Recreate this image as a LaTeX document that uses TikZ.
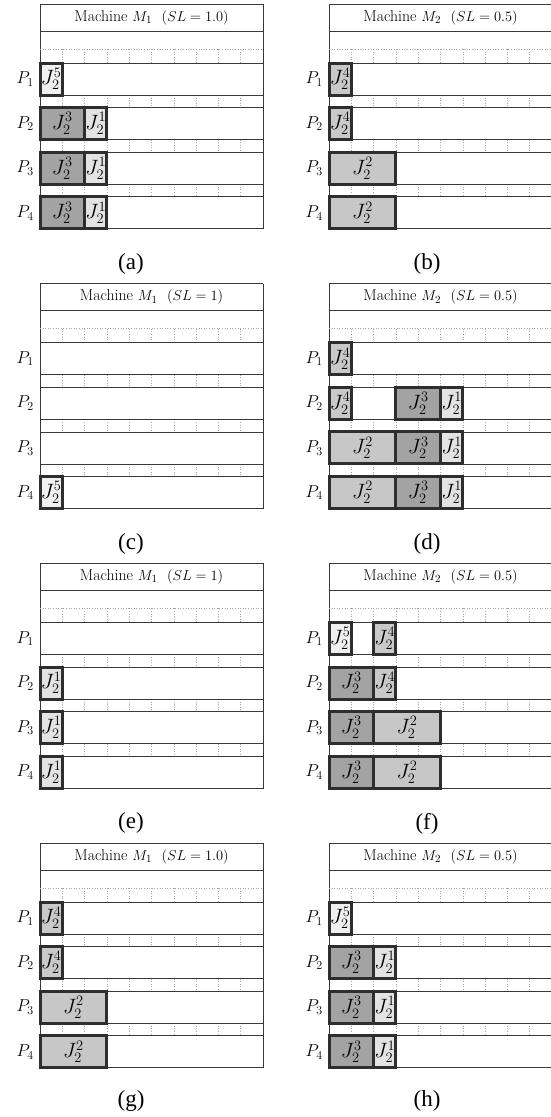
\documentclass[tikz,border=0pt]{standalone}
\usepackage{fontspec}
\newfontfamily\capfont{Liberation Serif}
\definecolor{jthree}{gray}{0.64}
\definecolor{jtwo}{gray}{0.78}
\definecolor{jfour}{gray}{0.79}
\definecolor{jone}{gray}{0.89}
\definecolor{jfive}{gray}{0.94}
\definecolor{framec}{gray}{0.22}
\definecolor{boxc}{gray}{0.18}
\tikzset{
  frameline/.style={draw=framec, line width=0.8pt},
  tickline/.style={draw=gray!70, dotted, line width=0.6pt},
  hdr/.style={font=\fontsize{15.8}{18}\selectfont, inner sep=0pt},
  plab/.style={font=\fontsize{18.5}{21}\selectfont, inner sep=0pt, anchor=east},
  jobbox/.style={draw=boxc, line width=3pt, inner sep=0pt, outer sep=0pt,
    minimum height=32pt, anchor=north west, font=\fontsize{19.5}{22}\selectfont},
  captext/.style={font=\capfont\fontsize{23}{26}\selectfont, inner sep=0pt}
}
\newcommand\drawpanel[4]{%
  \begin{scope}[shift={(#2,#3)}]
    \draw[frameline] (0,0) -- (223,0);
    \draw[frameline] (0,27) -- (223,27);
    \draw[frameline] (0,0) -- (0,224.8);
    \draw[frameline] (223,0) -- (223,224.8);
    \node[hdr] (#1-hdr) at (111.5,13.5) {#4};
    \draw[tickline] (0,45) -- (223,45);
    \foreach \k in {1,...,9} {
      \draw[tickline] (\k*22.3,45) -- (\k*22.3,59);
      \draw[tickline] (\k*22.3,91) -- (\k*22.3,103.6);
      \draw[tickline] (\k*22.3,135.6) -- (\k*22.3,148.2);
      \draw[tickline] (\k*22.3,180.2) -- (\k*22.3,192.8);
    }
    \foreach \r in {1,...,4} {
      \pgfmathsetmacro\rt{59+(\r-1)*44.6}
      \draw[frameline] (0,\rt) rectangle (223,\rt+32);
      \node[plab] (#1-p\r) at (-6,\rt+16) {$P_{\r}$};
    }
  \end{scope}}
\newcommand\job[8]{%
  \pgfmathsetmacro\jx{#2+#5*22.3}%
  \pgfmathsetmacro\jy{#3+59+(#4-1)*44.6}%
  \pgfmathsetmacro\jw{#6*22.3}%
  \node[jobbox, fill=#7, minimum width=\jw pt] (#1) at (\jx,\jy) {$J_2^{#8}$};}
\begin{document}
\begin{tikzpicture}[x=1pt,y=-1pt]
\useasboundingbox (0,0) rectangle (550,1117);
% row 1
\drawpanel{a}{40}{4}{Machine $M_1$ \ $(SL=1.0)$}
\job{a1}{40}{4}{1}{0}{1}{jfive}{5}
\job{a2}{40}{4}{2}{0}{2}{jthree}{3}
\job{a3}{40}{4}{2}{2}{1}{jone}{1}
\job{a4}{40}{4}{3}{0}{2}{jthree}{3}
\job{a5}{40}{4}{3}{2}{1}{jone}{1}
\job{a6}{40}{4}{4}{0}{2}{jthree}{3}
\job{a7}{40}{4}{4}{2}{1}{jone}{1}
\node[captext] (capa) at (131,264) {(a)};
\drawpanel{b}{329}{4}{Machine $M_2$ \ $(SL=0.5)$}
\job{b1}{329}{4}{1}{0}{1}{jfour}{4}
\job{b2}{329}{4}{2}{0}{1}{jfour}{4}
\job{b3}{329}{4}{3}{0}{3}{jtwo}{2}
\job{b4}{329}{4}{4}{0}{3}{jtwo}{2}
\node[captext] (capb) at (427,264) {(b)};
% row 2
\drawpanel{c}{40}{283.7}{Machine $M_1$ \ $(SL=1)$}
\job{c1}{40}{283.7}{4}{0}{1}{jfive}{5}
\node[captext] (capc) at (131,543.7) {(c)};
\drawpanel{d}{329}{283.7}{Machine $M_2$ \ $(SL=0.5)$}
\job{d1}{329}{283.7}{1}{0}{1}{jfour}{4}
\job{d2}{329}{283.7}{2}{0}{1}{jfour}{4}
\job{d3}{329}{283.7}{2}{3}{2}{jthree}{3}
\job{d4}{329}{283.7}{2}{5}{1}{jone}{1}
\job{d5}{329}{283.7}{3}{0}{3}{jtwo}{2}
\job{d6}{329}{283.7}{3}{3}{2}{jthree}{3}
\job{d7}{329}{283.7}{3}{5}{1}{jone}{1}
\job{d8}{329}{283.7}{4}{0}{3}{jtwo}{2}
\job{d9}{329}{283.7}{4}{3}{2}{jthree}{3}
\job{d10}{329}{283.7}{4}{5}{1}{jone}{1}
\node[captext] (capd) at (427,543.7) {(d)};
% row 3
\drawpanel{e}{40}{563.4}{Machine $M_1$ \ $(SL=1)$}
\job{e1}{40}{563.4}{2}{0}{1}{jone}{1}
\job{e2}{40}{563.4}{3}{0}{1}{jone}{1}
\job{e3}{40}{563.4}{4}{0}{1}{jone}{1}
\node[captext] (cape) at (131,823.4) {(e)};
\drawpanel{f}{329}{563.4}{Machine $M_2$ \ $(SL=0.5)$}
\job{f1}{329}{563.4}{1}{0}{1}{jfive}{5}
\job{f2}{329}{563.4}{1}{2}{1}{jfour}{4}
\job{f3}{329}{563.4}{2}{0}{2}{jthree}{3}
\job{f4}{329}{563.4}{2}{2}{1}{jfour}{4}
\job{f5}{329}{563.4}{3}{0}{2}{jthree}{3}
\job{f6}{329}{563.4}{3}{2}{3}{jtwo}{2}
\job{f7}{329}{563.4}{4}{0}{2}{jthree}{3}
\job{f8}{329}{563.4}{4}{2}{3}{jtwo}{2}
\node[captext] (capf) at (427,823.4) {(f)};
% row 4
\drawpanel{g}{40}{843}{Machine $M_1$ \ $(SL=1.0)$}
\job{g1}{40}{843}{1}{0}{1}{jfour}{4}
\job{g2}{40}{843}{2}{0}{1}{jfour}{4}
\job{g3}{40}{843}{3}{0}{3}{jtwo}{2}
\job{g4}{40}{843}{4}{0}{3}{jtwo}{2}
\node[captext] (capg) at (131,1101) {(g)};
\drawpanel{h}{329}{843}{Machine $M_2$ \ $(SL=0.5)$}
\job{h1}{329}{843}{1}{0}{1}{jfive}{5}
\job{h2}{329}{843}{2}{0}{2}{jthree}{3}
\job{h3}{329}{843}{2}{2}{1}{jone}{1}
\job{h4}{329}{843}{3}{0}{2}{jthree}{3}
\job{h5}{329}{843}{3}{2}{1}{jone}{1}
\job{h6}{329}{843}{4}{0}{2}{jthree}{3}
\job{h7}{329}{843}{4}{2}{1}{jone}{1}
\node[captext] (caph) at (427,1101) {(h)};
\end{tikzpicture}
\end{document}
